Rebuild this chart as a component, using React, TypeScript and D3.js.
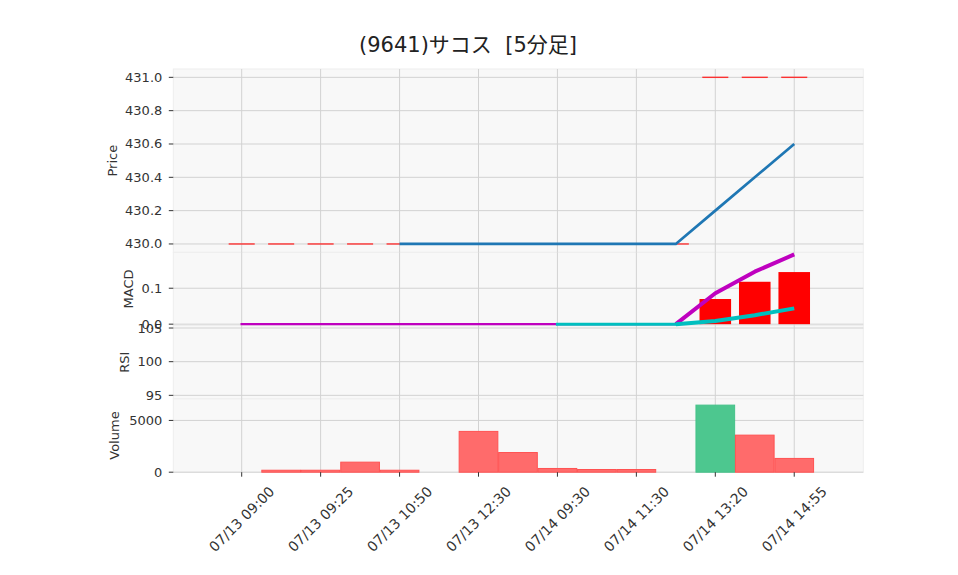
import React from 'react';
import * as d3 from 'd3';

const tickIdx = [0, 2, 4, 6, 8, 10, 12, 14];
const tickLabels = ['07/13 09:00', '07/13 09:25', '07/13 10:50', '07/13 12:30', '07/14 09:30', '07/14 11:30', '07/14 13:20', '07/14 14:55'];
const closePrice: (number | null)[] = [null, null, null, null, 430, 430, 430, 430, 430, 430, 430, 430, 430.2, 430.4, 430.6];
const limitPrice = [430, 430, 430, 430, 430, 430, 430, 430, 430, 430, 430, 430, 431, 431, 431];
const macd = [0, 0, 0, 0, 0, 0, 0, 0, 0, 0, 0, 0, 0.086, 0.146, 0.194];
const signal: (number | null)[] = [null, null, null, null, null, null, null, null, 0, 0, 0, 0, 0.009, 0.025, 0.044];
const hist = [0, 0, 0, 0, 0, 0, 0, 0, 0, 0, 0, 0, 0.07, 0.118, 0.145];
const volume = [0, 190, 190, 970, 190, 0, 3940, 1900, 360, 260, 260, 0, 6480, 3580, 1330];
const volUp = [false, false, false, false, false, false, false, false, false, false, false, false, true, false, false];
const priceTicks = [430.0, 430.2, 430.4, 430.6, 430.8, 431.0];
const macdTicks = [0.0, 0.1];
const rsiTicks = [95, 100, 105];
const volTicks = [0, 5000];

const L = 173.3, R = 863.3;
const P = { top: 69, bot: 252.3 };
const M = { top: 252.3, bot: 325.6 };
const S = { top: 325.6, bot: 398.9 };
const V = { top: 398.9, bot: 472.2 };

const FONT = 'DejaVu Sans';
const TXT = '#333333';
const GRID = '#d2d2d2';

export default function App() {
  const x = d3.scaleLinear().domain([-1.733, 15.75]).range([L, R]);
  const yP = d3.scaleLinear().domain([429.95, 431.05]).range([P.bot, P.top]);
  const yM = d3.scaleLinear().domain([-0.004, 0.2]).range([M.bot, M.top]);
  const yS = d3.scaleLinear().domain([94.47, 105.36]).range([S.bot, S.top]);
  const yV = d3.scaleLinear().domain([0, 7080]).range([V.bot, V.top]);
  const unit = x(1) - x(0);

  const idx = d3.range(volume.length);

  const closeIdx = idx.filter((i) => closePrice[i] !== null);
  const closePath = d3.line<number>().x((i) => x(i)).y((i) => yP(closePrice[i] as number))(closeIdx) || '';
  const macdGen = d3.line<number>().x((i) => x(i)).y((i) => yM(macd[i]));
  const macdFlat = macdGen(idx.filter((i) => i <= 11)) || '';
  const macdRise = macdGen(idx.filter((i) => i >= 11)) || '';
  const sigGen = d3.line<number>().x((i) => x(i)).y((i) => yM(signal[i] as number));
  const sigIdx = idx.filter((i) => signal[i] !== null);
  const sigFlat = sigGen(sigIdx.filter((i) => i <= 11)) || '';
  const sigRise = sigGen(sigIdx.filter((i) => i >= 11)) || '';

  const panels = [P, M, S, V];

  const yAxis = (ticks: number[], y: any, fmt: (v: number) => string) =>
    ticks.map((t, k) => (
      <g key={k}>
        <line x1={L} x2={R} y1={y(t)} y2={y(t)} stroke={GRID} strokeWidth={1} />
        <line x1={L - 4.5} x2={L} y1={y(t)} y2={y(t)} stroke={TXT} strokeWidth={1} />
        <text x={L - 11} y={y(t)} textAnchor="end" dominantBaseline="central" fontSize={13} fill={TXT} fontFamily={FONT}>
          {fmt(t)}
        </text>
      </g>
    ));

  return (
    <svg width={958} height={575} style={{ position: 'absolute', left: 0, top: 0, background: '#fff' }}>
      <rect x={0} y={0} width={958} height={575} fill="#fff" />
      {panels.map((p, k) => (
        <rect key={k} x={L} y={p.top} width={R - L} height={p.bot - p.top} fill="#f8f8f8" stroke="#eeeeee" strokeWidth={1} />
      ))}
      {panels.map((p, k) =>
        tickIdx.map((t) => (
          <line key={k + '-' + t} x1={x(t)} x2={x(t)} y1={p.top} y2={p.bot} stroke={GRID} strokeWidth={1} />
        ))
      )}
      {yAxis(priceTicks, yP, (v) => v.toFixed(1))}
      {yAxis(macdTicks, yM, (v) => v.toFixed(1))}
      {yAxis(rsiTicks, yS, (v) => String(v))}
      {yAxis(volTicks, yV, (v) => String(v))}

      {idx.map((i) => (
        <line key={'lim' + i} x1={x(i) - unit * 0.33} x2={x(i) + unit * 0.33} y1={yP(limitPrice[i])} y2={yP(limitPrice[i])} stroke="#ff2020" strokeOpacity={0.9} strokeWidth={1.4} />
      ))}
      <path d={closePath} fill="none" stroke="#1f77b4" strokeWidth={2.7} />

      {idx.filter((i) => hist[i] !== 0).map((i) => (
        <rect key={'h' + i} x={x(i) - unit * 0.4} width={unit * 0.8} y={yM(hist[i])} height={yM(0) - yM(hist[i])} fill="#ff0000" />
      ))}
      <path d={macdFlat} fill="none" stroke="#bf00bf" strokeWidth={2.4} strokeLinecap="square" />
      <path d={macdRise} fill="none" stroke="#bf00bf" strokeWidth={4} strokeLinecap="butt" strokeLinejoin="round" />
      <path d={sigFlat} fill="none" stroke="#00bfbf" strokeWidth={3} strokeLinecap="square" />
      <path d={sigRise} fill="none" stroke="#00bfbf" strokeWidth={4} strokeLinecap="butt" strokeLinejoin="round" />

      {idx.filter((i) => volume[i] > 0).map((i) => (
        <rect key={'v' + i} x={x(i) - unit * 0.49} width={unit * 0.98} y={yV(volume[i])} height={yV(0) - yV(volume[i])}
          fill={volUp[i] ? '#4dc78f' : '#ff6b6b'} stroke={volUp[i] ? '#45c289' : '#ff5252'} strokeWidth={1} />
      ))}

      {tickIdx.map((t, k) => (
        <g key={'xt' + k}>
          <line x1={x(t)} x2={x(t)} y1={V.bot} y2={V.bot + 4.5} stroke={TXT} strokeWidth={1} />
          <text transform={`translate(${x(t)},${519}) rotate(-45)`} textAnchor="middle" dominantBaseline="central" fontSize={14} fill={TXT} fontFamily={FONT}>
            {tickLabels[k]}
          </text>
        </g>
      ))}

      <text transform={`translate(112,${(P.top + P.bot) / 2}) rotate(-90)`} textAnchor="middle" dominantBaseline="central" fontSize={13} fill={TXT} fontFamily={FONT}>Price</text>
      <text transform={`translate(128,${(M.top + M.bot) / 2}) rotate(-90)`} textAnchor="middle" dominantBaseline="central" fontSize={13} fill={TXT} fontFamily={FONT}>MACD</text>
      <text transform={`translate(124,${(S.top + S.bot) / 2}) rotate(-90)`} textAnchor="middle" dominantBaseline="central" fontSize={13} fill={TXT} fontFamily={FONT}>RSI</text>
      <text transform={`translate(114,${(V.top + V.bot) / 2}) rotate(-90)`} textAnchor="middle" dominantBaseline="central" fontSize={13} fill={TXT} fontFamily={FONT}>Volume</text>

      <text x={468} y={45} textAnchor="middle" dominantBaseline="central" fontSize={21} fill="#222" fontFamily="'DejaVu Sans', 'Noto Sans CJK JP'" style={{ whiteSpace: 'pre' }}>
        {'(9641)サコス  [5分足]'}
      </text>
    </svg>
  );
}
